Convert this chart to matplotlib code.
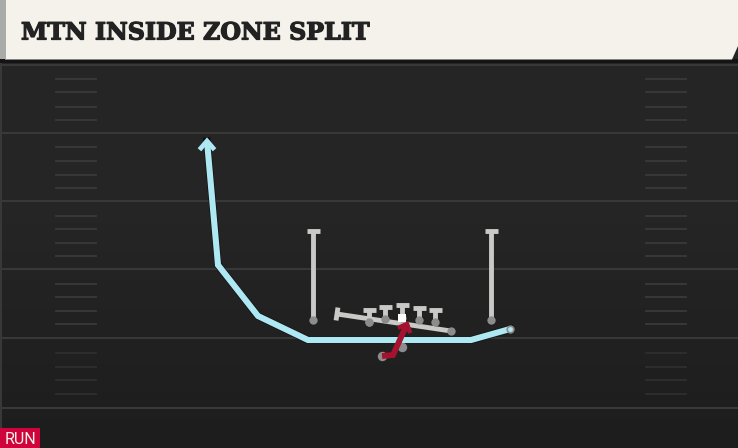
import matplotlib
matplotlib.use('Agg')
import matplotlib.pyplot as plt
import matplotlib.patheffects as pe
import numpy as np
from matplotlib.patches import Polygon, Rectangle

W, H = 738, 448

TITLE = "MTN INSIDE ZONE SPLIT"
TAG = "RUN"

# field, pixel coordinates
YARD_LINES = [65, 133, 201, 269, 338, 408]
HASH_ROWS = [79, 92, 107, 120, 147, 161, 175, 188, 216, 229, 243, 256,
             284, 297, 311, 324, 353, 367, 380, 394]
HASH_LEFT = (56, 96)
HASH_RIGHT = (646, 686)

# routes
BLUE_X = [510, 471, 308, 258, 218, 207]
BLUE_Y = [329, 340, 340, 316, 265, 141]
RED_X = [382, 393, 407]
RED_Y = [356, 355, 324]

# blockers: start point, end point of the T
LONG_X = [[313, 313], [491, 491]]
LONG_Y = [[320, 231], [320, 231]]
LINE_X = [[369, 369], [385, 385], [402, 402], [419, 419], [435, 435]]
LINE_Y = [[322, 310], [319, 307], [318, 305], [320, 308], [322, 310]]
SLANT_X = [451, 337]
SLANT_Y = [331, 314]

# players without a T
DOTS_X = [402]
DOTS_Y = [347]

GREY = "#c9c9c7"
BLUE = "#aee8f2"
RED = "#a5122f"
DOT = "#8c8c8c"


def draw_t(ax, xs, ys, half=6.5):
    # stem with a short cross bar and a dot at the start
    ax.plot(xs, ys, color=GREY, lw=3.5, solid_capstyle='butt', zorder=4)
    dx, dy = xs[1] - xs[0], ys[1] - ys[0]
    n = np.hypot(dx, dy)
    px, py = -dy / n * half, dx / n * half
    ax.plot([xs[1] - px, xs[1] + px], [ys[1] - py, ys[1] + py],
            color=GREY, lw=3.5, solid_capstyle='butt', zorder=4)
    ax.scatter(xs[0], ys[0], s=36, color=DOT, linewidths=0, zorder=5)


fig = plt.figure(figsize=(W / 100, H / 100), dpi=100)
ax = fig.add_axes([0, 0, 1, 1])
ax.set_xlim(0, W)
ax.set_ylim(H, 0)
ax.axis('off')

# dark field with a slight fade towards the bottom
grad = np.linspace(0, 1, 256).reshape(-1, 1)
ax.imshow(grad, extent=[0, W, H, 0], aspect='auto', zorder=0, vmin=0, vmax=1,
          cmap=matplotlib.colors.LinearSegmentedColormap.from_list(
              'field', ['#262626', '#252525', '#1d1d1d']))
ax.set_xlim(0, W)
ax.set_ylim(H, 0)
ax.add_patch(Rectangle((0, 59), 2, H - 59, color='#383838', lw=0, zorder=1))

for y in YARD_LINES:
    ax.plot([0, W], [y, y], color='#383838', lw=1.5, zorder=1)
for y in HASH_ROWS:
    c = '#3a3a3a' if y < 340 else '#2f2f2f'
    ax.plot(HASH_LEFT, [y, y], color=c, lw=1.3, zorder=1)
    ax.plot(HASH_RIGHT, [y, y], color=c, lw=1.3, zorder=1)

# header
ax.add_patch(Rectangle((0, 59), W, 4, color='#141414', lw=0, zorder=2))
ax.add_patch(Polygon([(5, 0), (W, 0), (W, 46), (732, 59.5), (5, 59.5)],
                     facecolor='#f5f2eb', edgecolor='none', zorder=3))
ax.add_patch(Rectangle((0, 0), 6, 59.5, color='#a9aba8', lw=0, zorder=3))
title = ax.text(21, 32.5, TITLE, fontsize=17.1, family='DejaVu Serif', weight='bold',
                color='#222222', ha='left', va='center', zorder=4)
title.set_path_effects([pe.withStroke(linewidth=0.9, foreground='#222222')])

# blue route
ax.plot(BLUE_X, BLUE_Y, color='#111111', lw=5.4, solid_joinstyle='miter', zorder=2.5)
ax.plot(BLUE_X, BLUE_Y, color=BLUE, lw=4.4, solid_joinstyle='miter',
        solid_capstyle='butt', zorder=3)
ax.plot([201, BLUE_X[-1], 213], [148, 141, 148], color=BLUE, lw=3.4,
        solid_joinstyle='miter', zorder=3)
ax.scatter(BLUE_X[0], BLUE_Y[0], s=36, color=DOT, linewidths=0, zorder=5)
ax.scatter(BLUE_X[0], BLUE_Y[0], s=12, color=BLUE, linewidths=0, zorder=5)

# blockers
ax.scatter(369, 322, s=36, color=DOT, linewidths=0, zorder=3.5)
for xs, ys in zip(LONG_X, LONG_Y):
    draw_t(ax, xs, ys)
for xs, ys in zip(LINE_X, LINE_Y):
    draw_t(ax, xs, ys)
draw_t(ax, SLANT_X, SLANT_Y, half=6.5)

# ball carrier
ax.scatter(DOTS_X, DOTS_Y, s=46, color=DOT, linewidths=0, zorder=5)
ax.scatter(RED_X[0], RED_Y[0], s=46, color=DOT, linewidths=0, zorder=5)
ax.plot(RED_X, RED_Y, color=RED, lw=4.2, solid_joinstyle='miter',
        solid_capstyle='butt', zorder=6)
ax.plot([400, RED_X[-1], 409.5], [327, 324, 331], color=RED, lw=3.2,
        solid_joinstyle='miter', zorder=6)
ax.add_patch(Rectangle((398, 314), 8, 8, color='white', lw=0, zorder=7))

# tag
ax.add_patch(Rectangle((0, 428), 40, 20, color='#d0043c', lw=0, zorder=3))
ax.text(20, 439, TAG, fontsize=11.5, family='Roboto', color='#f5f2eb',
        ha='center', va='center', zorder=4)

fig.savefig('out.png', dpi=100)
plt.close()
